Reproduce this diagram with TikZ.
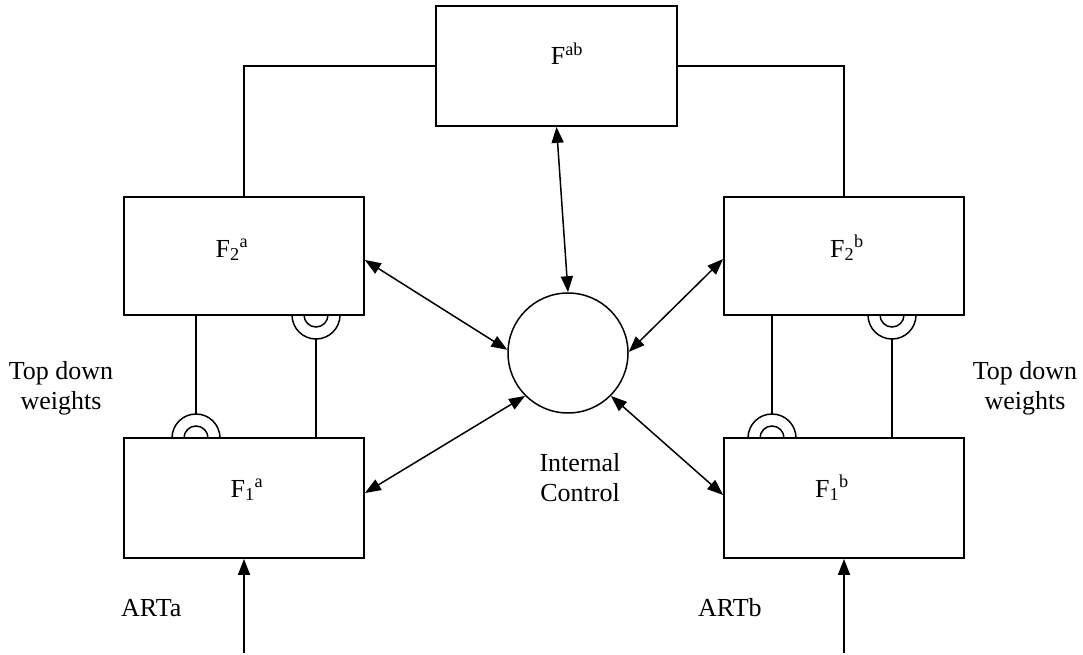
\documentclass[tikz,border=0pt]{standalone}
\usepackage{fontspec}
\setmainfont{Liberation Serif}
\usetikzlibrary{arrows.meta}

\tikzset{
  layer/.style={draw, line width=1.8pt, inner sep=0pt, minimum width=240pt, minimum height=118pt},
  lbl/.style={inner sep=0pt, anchor=base, font=\fontsize{26}{31}\selectfont},
  txt/.style={inner sep=0pt, align=center, font=\fontsize{26}{30}\selectfont},
  wire/.style={line width=1.5pt},
  link/.style={line width=1.5pt, {Triangle[length=16pt,width=12pt]}-{Triangle[length=16pt,width=12pt]}},
  feed/.style={line width=1.5pt, -{Triangle[length=16pt,width=12pt]}},
  syn/.style={line width=1.5pt}
}

\begin{document}
\begin{tikzpicture}[x=1pt, y=-1pt]
\useasboundingbox (0,0) rectangle (1083,655);

% layers
\node[layer, minimum width=241pt, minimum height=120pt] (fab) at (556.5,66) {};
\node[layer] (f2a) at (244,256) {};
\node[layer] (f2b) at (844,256) {};
\node[layer, minimum height=120pt] (f1a) at (244,498) {};
\node[layer, minimum height=120pt] (f1b) at (844,498) {};

% layer names
\node[lbl] (tab) at (567,65) {F\textsuperscript{ab}};
\node[lbl] (t2a) at (232,257) {F\textsubscript{2}\textsuperscript{a}};
\node[lbl] (t2b) at (847,257) {F\textsubscript{2}\textsuperscript{b}};
\node[lbl] (t1a) at (247,497) {F\textsubscript{1}\textsuperscript{a}};
\node[lbl] (t1b) at (832,497) {F\textsubscript{1}\textsuperscript{b}};

% internal control
\node[draw, circle, line width=1.5pt, minimum size=120pt, inner sep=0pt] (ctl) at (568,353) {};
\node[txt] (tctl) at (580,478) {Internal\\Control};

% side labels
\node[txt] (twa) at (61,388) {Top down\\weights};
\node[txt] (twb) at (1025,388) {Top down\\weights};
\node[txt, anchor=west] (arta) at (121,608) {ARTa};
\node[txt, anchor=west] (artb) at (698,608) {ARTb};

% map field to the two F2 layers
\draw[wire] (fab.west) -| (f2a.north);
\draw[wire] (fab.east) -| (f2b.north);

% links to the internal control
\draw[link] (fab.south) -- (ctl.north);
\draw[link] ([yshift=-4pt]f2a.east) -- (ctl.177);
\draw[link] ([yshift=5pt]f1a.east) -- (ctl.225);
\draw[link] ([yshift=-3pt]f2b.west) -- (ctl.1);
\draw[link] ([yshift=3pt]f1b.west) -- (ctl.315);

% inputs
\coordinate (ina) at (244,653);
\coordinate (inb) at (844,653);
\draw[feed] (ina) -- (f1a.south);
\draw[feed] (inb) -- (f1b.south);

% top-down and bottom-up weights with synapses, side a
\coordinate (sa1) at (196,438);
\coordinate (sa2) at (316,315);
\draw[wire] (f2a.south -| sa1) -- ([yshift=24pt]sa1);
\draw[syn] ([xshift=-24pt]sa1) arc[start angle=180, end angle=0, radius=24pt];
\draw[syn] ([xshift=-12pt]sa1) arc[start angle=180, end angle=0, radius=12pt];
\draw[wire] ([yshift=-24pt]sa2) -- (f1a.north -| sa2);
\draw[syn] ([xshift=-24pt]sa2) arc[start angle=180, end angle=360, radius=24pt];
\draw[syn] ([xshift=-12pt]sa2) arc[start angle=180, end angle=360, radius=12pt];

% side b
\coordinate (sb1) at (772,438);
\coordinate (sb2) at (892,315);
\draw[wire] (f2b.south -| sb1) -- ([yshift=24pt]sb1);
\draw[syn] ([xshift=-24pt]sb1) arc[start angle=180, end angle=0, radius=24pt];
\draw[syn] ([xshift=-12pt]sb1) arc[start angle=180, end angle=0, radius=12pt];
\draw[wire] ([yshift=-24pt]sb2) -- (f1b.north -| sb2);
\draw[syn] ([xshift=-24pt]sb2) arc[start angle=180, end angle=360, radius=24pt];
\draw[syn] ([xshift=-12pt]sb2) arc[start angle=180, end angle=360, radius=12pt];
\end{tikzpicture}
\end{document}
